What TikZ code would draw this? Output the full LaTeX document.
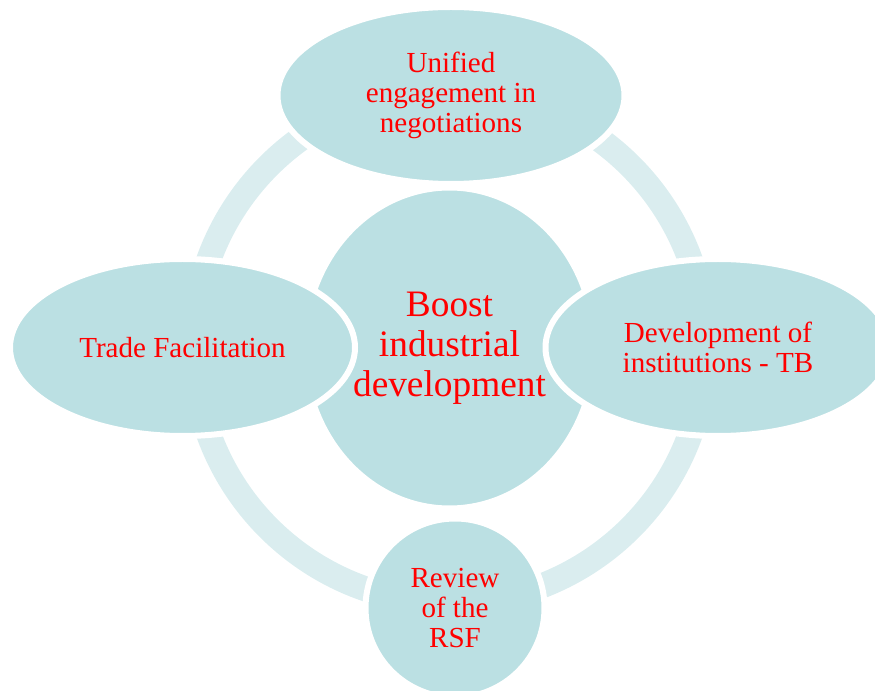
\documentclass[tikz,border=0pt]{standalone}
\usepackage{fontspec}
\setmainfont{Liberation Serif}
\usetikzlibrary{shapes.geometric}
\definecolor{bubble}{HTML}{BBE0E3}
\definecolor{ringc}{HTML}{DAEDEF}
\definecolor{txtred}{HTML}{FF0000}
\tikzset{
  bubble/.style={ellipse, fill=bubble, draw=white, line width=4.5pt,
    inner sep=0pt, align=center, text=txtred,
    font=\fontsize{21.8}{22.8}\selectfont},
  ringstyle/.style={draw=ringc, line width=18.75pt}
}
\begin{document}
\begin{tikzpicture}[x=0.75pt, y=-0.75pt]
\useasboundingbox (0,0) rectangle (875,691);
\clip (0,0) rectangle (875,691);
% ring
\coordinate (ringcenter) at (449.5,347);
\draw[ringstyle] (ringcenter) circle [radius=256];
% outer bubbles and hub
\node[bubble, minimum width=260.25pt, minimum height=132.75pt] (top) at (451,95.5)
  {Unified\\engagement in\\negotiations};
\node[bubble, circle, minimum size=134.25pt] (bottom) at (455,608)
  {Review\\of the\\RSF};
\node[bubble, minimum width=217.5pt, minimum height=240.75pt,
  font=\fontsize{28}{30}\selectfont] (hub) at (449.5,348)
  {Boost\\industrial\\development};
\node[bubble, minimum width=258.75pt, minimum height=132.75pt] (left) at (182.5,347.5)
  {Trade Facilitation};
\node[bubble, minimum width=258.75pt, minimum height=132.75pt] (right) at (718,347.5)
  {Development of\\institutions - TB};
\end{tikzpicture}
\end{document}
